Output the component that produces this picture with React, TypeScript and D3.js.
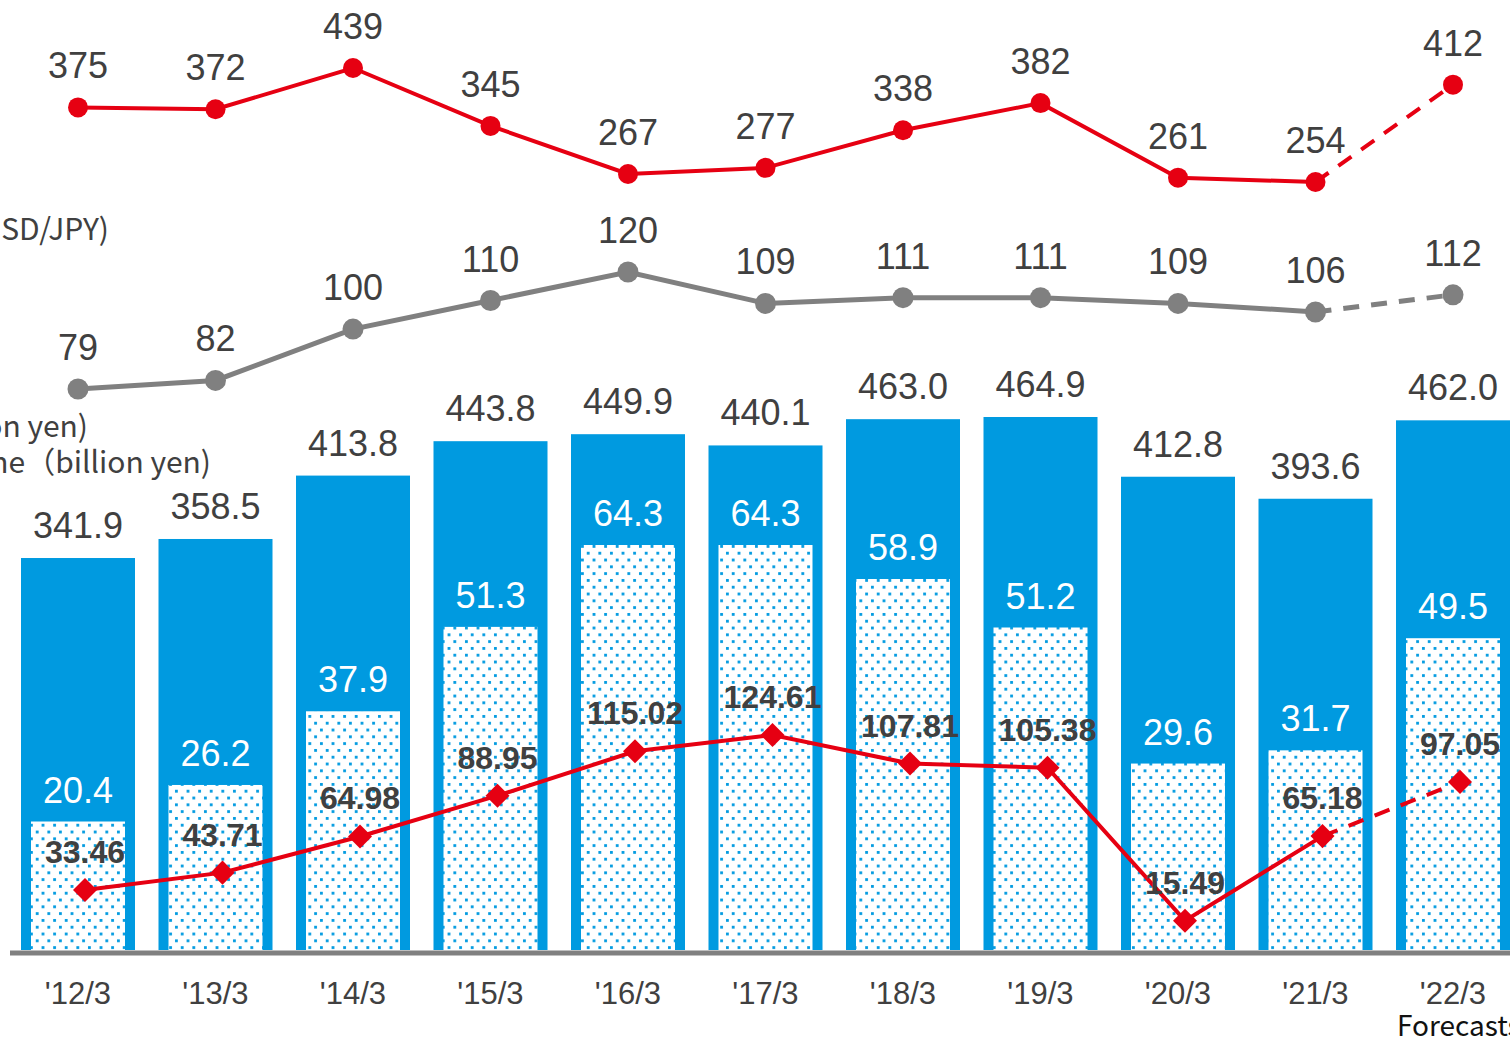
import React from "react";
import * as d3 from "d3";

const categories = ["'12/3", "'13/3", "'14/3", "'15/3", "'16/3", "'17/3", "'18/3", "'19/3", "'20/3", "'21/3", "'22/3"];
const netSales = [341.9, 358.5, 413.8, 443.8, 449.9, 440.1, 463.0, 464.9, 412.8, 393.6, 462.0];
const opIncome = [20.4, 26.2, 37.9, 51.3, 64.3, 64.3, 58.9, 51.2, 29.6, 31.7, 49.5];
const netIncomeYen = [33.46, 43.71, 64.98, 88.95, 115.02, 124.61, 107.81, 105.38, 15.49, 65.18, 97.05];
const topSeries = [375, 372, 439, 345, 267, 277, 338, 382, 261, 254, 412];
const usdJpy = [79, 82, 100, 110, 120, 109, 111, 111, 109, 106, 112];

const W = 1510;
const H = 1039;
const BLUE = "#009ae0";
const RED = "#e60012";
const GRAY = "#808080";
const TEXT = "#404040";
const NUM_FONT = "'Liberation Sans', Arial, sans-serif";
const CJK_FONT = "'Noto Sans CJK JP', 'Noto Sans', sans-serif";

const App = () => {
  const x = d3.scalePoint<string>().domain(categories).range([78, 1453]);
  const salesY = d3.scaleLinear().domain([0, 464.9]).range([950, 417]);
  const opY = d3.scaleLinear().domain([0, 64.3]).range([950, 545]);
  const netY = d3.scaleLinear().domain([0, 124.61]).range([947, 735]);
  const topY = d3.scaleLinear().domain([254, 439]).range([182, 68]);
  const fxY = d3.scaleLinear().domain([79, 120]).range([389, 272]);

  const outerW = 114;
  const innerW = 94;
  const diamondOffset = 7;
  const last = categories.length - 1;

  const line = d3.line<[number, number]>();
  const pts = (vals: number[], ys: d3.ScaleLinear<number, number>, dx = 0) =>
    vals.map((v, i) => [(x(categories[i]) as number) + dx, ys(v)] as [number, number]);

  const topPts = pts(topSeries, topY);
  const fxPts = pts(usdJpy, fxY);
  const netPts = pts(netIncomeYen, netY, diamondOffset);

  // solid up to the last actual year, dashed to the forecast
  const splitLine = (p: [number, number][], color: string, width: number) => (
    <g>
      <path d={line(p.slice(0, last)) || ""} fill="none" stroke={color} strokeWidth={width} />
      <path d={line(p.slice(last - 1)) || ""} fill="none" stroke={color} strokeWidth={width} strokeDasharray="16 12" />
    </g>
  );

  return (
    <svg width={W} height={H} style={{ position: "absolute", left: 0, top: 0, background: "#fff" }}>
      <defs>
        <pattern id="dots" patternUnits="userSpaceOnUse" width={11.6} height={13.6}>
          <rect width={11.6} height={13.6} fill="#fff" />
          <rect x={1} y={1} width={2.8} height={2.8} fill={BLUE} />
          <rect x={6.8} y={7.8} width={2.8} height={2.8} fill={BLUE} />
        </pattern>
      </defs>

      {/* left labels (cropped in the reference) */}
      <g fill={TEXT} fontFamily={CJK_FONT} fontSize={30}>
        <text x={109} y={240} textAnchor="end">Exchange rate (USD/JPY)</text>
        <text x={88} y={437} textAnchor="end">Net sales（billion yen)</text>
        <text x={211} y={473} textAnchor="end">Operating income（billion yen)</text>
      </g>

      {/* outer bars */}
      {categories.map((c, i) => (
        <rect key={"o" + c} x={(x(c) as number) - outerW / 2} y={salesY(netSales[i])} width={outerW}
          height={salesY(0) - salesY(netSales[i])} fill={BLUE} />
      ))}
      {/* inner dotted bars */}
      {categories.map((c, i) => (
        <rect key={"i" + c} x={(x(c) as number) - innerW / 2} y={opY(opIncome[i])} width={innerW}
          height={opY(0) - opY(opIncome[i])} fill="url(#dots)" />
      ))}

      {/* axis line */}
      <line x1={10} x2={W} y1={953} y2={953} stroke={GRAY} strokeWidth={5} />

      {/* bar labels */}
      <g fontFamily={NUM_FONT} fontSize={36} textAnchor="middle">
        {categories.map((c, i) => (
          <text key={"sl" + c} x={x(c)} y={salesY(netSales[i]) - 20} fill={TEXT}>{netSales[i].toFixed(1)}</text>
        ))}
        {categories.map((c, i) => (
          <text key={"ol" + c} x={x(c)} y={opY(opIncome[i]) - 19} fill="#fff">{opIncome[i].toFixed(1)}</text>
        ))}
      </g>

      {/* net income diamond line */}
      {splitLine(netPts, RED, 4)}
      {netPts.map((p, i) => (
        <rect key={"d" + i} x={p[0] - 8.5} y={p[1] - 8.5} width={17} height={17} fill={RED}
          transform={`rotate(45 ${p[0]} ${p[1]})`} />
      ))}
      <g fontFamily={NUM_FONT} fontSize={32} fontWeight="bold" textAnchor="middle" fill={TEXT}>
        {netPts.map((p, i) => (
          <text key={"nl" + i} x={p[0]} y={p[1] - 27}>{netIncomeYen[i].toFixed(2)}</text>
        ))}
      </g>

      {/* top red line */}
      {splitLine(topPts, RED, 4)}
      {topPts.map((p, i) => (
        <circle key={"t" + i} cx={p[0]} cy={p[1]} r={10} fill={RED} />
      ))}

      {/* exchange rate line */}
      {splitLine(fxPts, GRAY, 5)}
      {fxPts.map((p, i) => (
        <circle key={"f" + i} cx={p[0]} cy={p[1]} r={10.5} fill={GRAY} />
      ))}

      <g fontFamily={NUM_FONT} fontSize={36} textAnchor="middle" fill={TEXT}>
        {topPts.map((p, i) => (
          <text key={"tl" + i} x={p[0]} y={p[1] - 29}>{topSeries[i]}</text>
        ))}
        {fxPts.map((p, i) => (
          <text key={"fl" + i} x={p[0]} y={p[1] - 29}>{usdJpy[i]}</text>
        ))}
      </g>

      {/* x axis labels */}
      <g fontFamily={NUM_FONT} fontSize={31} textAnchor="middle" fill={TEXT}>
        {categories.map((c) => (
          <text key={"x" + c} x={x(c)} y={1004}>{c}</text>
        ))}
      </g>
      <text x={1397} y={1036} fontFamily={CJK_FONT} fontSize={28} fill="#111">Forecasts</text>
    </svg>
  );
};

export default App;
